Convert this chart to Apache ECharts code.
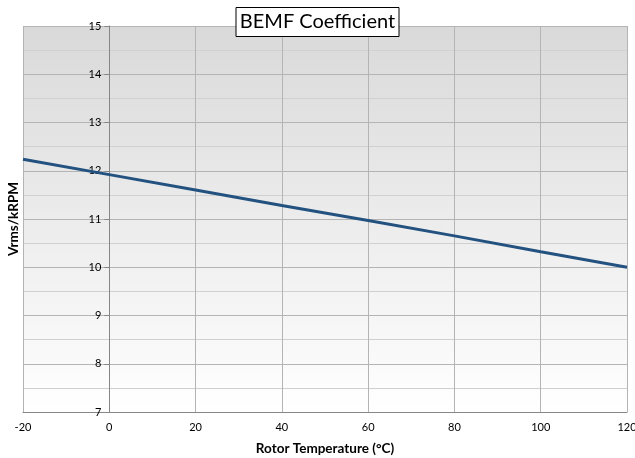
<!DOCTYPE html>
<html>
<head>
<meta charset="utf-8">
<script src="https://cdn.jsdelivr.net/npm/echarts@6/dist/echarts.min.js"></script>
<style>
html,body{margin:0;padding:0;background:#fff;}
#chart{width:635px;height:458px;}
</style>
</head>
<body>
<div id="chart"></div>
<script>
var temperatures = [-20, 0, 20, 40, 60, 80, 100, 120];
var bemf = [12.24, 11.92, 11.60, 11.28, 10.97, 10.65, 10.32, 10.00];
var titleText = 'BEMF Coefficient';
var xName = 'Rotor Temperature (°C)';
var yName = 'Vrms/kRPM';

var points = temperatures.map(function (t, i) { return [t, bemf[i]]; });

var chart = echarts.init(document.getElementById('chart'), null, {renderer: 'canvas'});
chart.setOption({
  animation: false,
  title: {
    text: titleText,
    left: 'center',
    top: 7,
    padding: [5, 4, 5, 4],
    borderWidth: 1,
    borderColor: '#000',
    backgroundColor: '#fff',
    textStyle: {fontFamily: 'Lato', fontWeight: 'normal', fontSize: 20, color: '#000'}
  },
  grid: {
    left: 23, right: 8, top: 26, bottom: 46,
    outerBoundsMode: 'none',
    containLabel: false,
    show: true,
    borderWidth: 0,
    backgroundColor: {
      type: 'linear', x: 0, y: 0, x2: 0, y2: 1,
      colorStops: [{offset: 0, color: '#d9d9d9'}, {offset: 1, color: '#ffffff'}]
    }
  },
  xAxis: {
    type: 'value',
    min: -20, max: 120, interval: 20,
    name: xName,
    nameLocation: 'middle',
    nameGap: 30,
    nameTextStyle: {fontFamily: 'Lato', fontWeight: 'bold', fontSize: 13.5, color: '#000'},
    axisLine: {onZero: false, lineStyle: {color: '#868686', width: 1}},
    axisTick: {show: false},
    axisLabel: {fontFamily: 'Lato', fontSize: 11, color: '#000', margin: 10},
    splitLine: {show: true, lineStyle: {color: '#b4b4b4', width: 1}}
  },
  yAxis: {
    type: 'value',
    min: 7, max: 15, interval: 1,
    offset: -86.3,
    name: yName,
    nameLocation: 'middle',
    nameGap: 89,
    nameTextStyle: {fontFamily: 'Lato', fontWeight: 'bold', fontSize: 13.5, color: '#000'},
    axisLine: {show: true, onZero: false, lineStyle: {color: '#868686', width: 1}},
    axisTick: {show: true, length: 5, lineStyle: {color: '#868686'}},
    axisLabel: {fontFamily: 'Lato', fontSize: 11, color: '#000', margin: 8},
    splitLine: {show: true, lineStyle: {color: '#b4b4b4', width: 1}},
    minorTick: {show: false, splitNumber: 2},
    minorSplitLine: {show: true, lineStyle: {color: '#d0d0d0', width: 1}}
  },
  series: [{
    type: 'line',
    data: points,
    showSymbol: false,
    symbol: 'none',
    lineStyle: {color: '#235280', width: 3},
    z: 5
  }]
});
</script>
</body>
</html>
